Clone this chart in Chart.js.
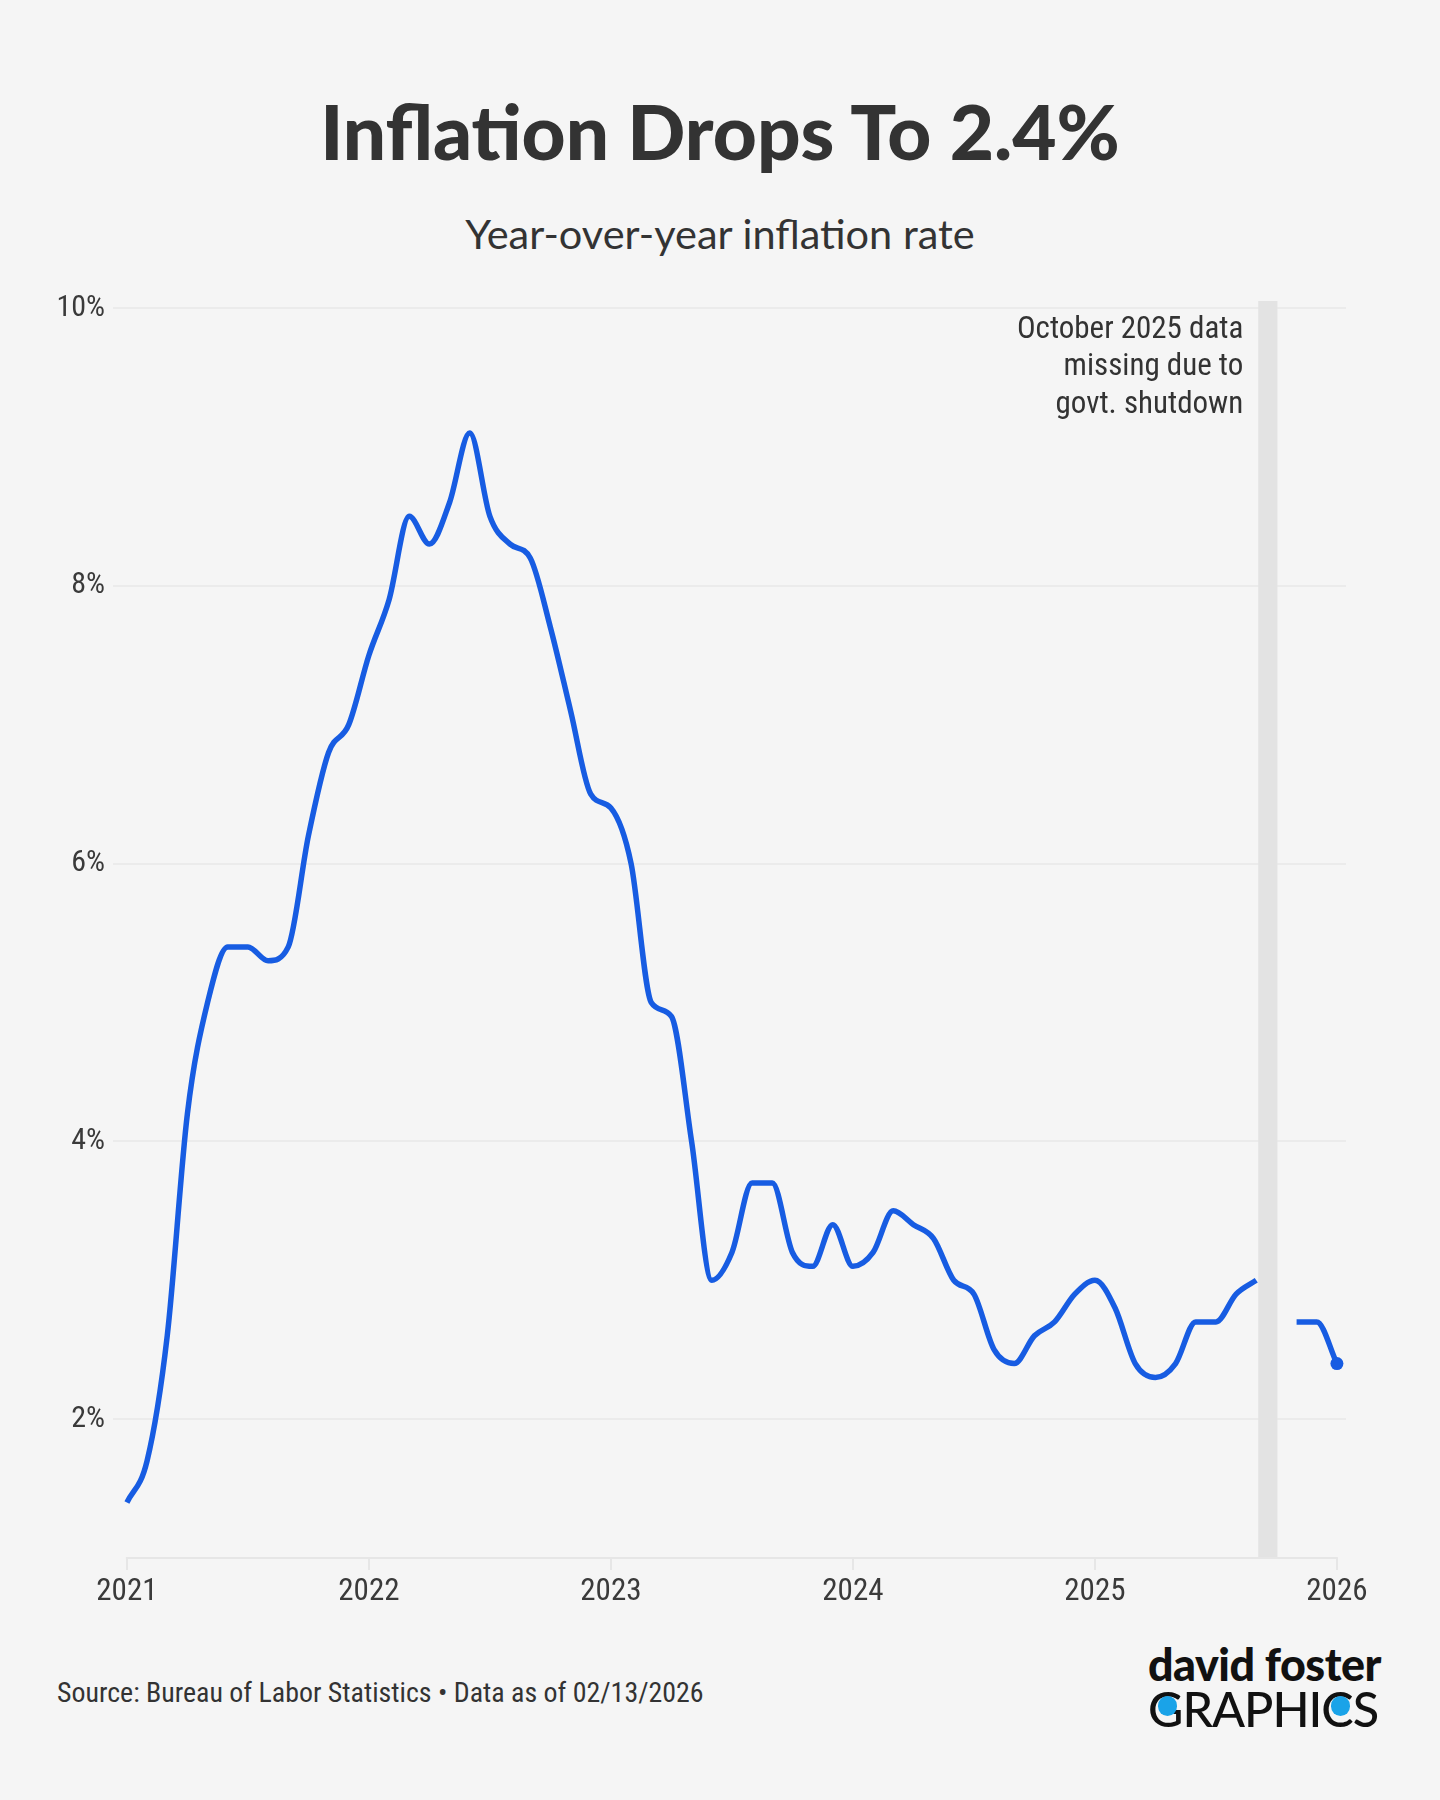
<!DOCTYPE html>
<html>
<head>
<meta charset="utf-8">
<script src="https://cdn.jsdelivr.net/npm/chart.js@4.4.1/dist/chart.umd.min.js"></script>
<style>
html, body { margin: 0; padding: 0; background: #f5f5f5; }
#page { position: relative; width: 1440px; height: 1800px; background: #f5f5f5; overflow: hidden; color: #333; font-family: Lato, sans-serif; }
.fit { position: absolute; left: 0; width: 1440px; text-align: center; white-space: nowrap; }
#title { top: 86px; font-weight: 900; font-size: 76px; line-height: 90px; color: #333; }
#subtitle { top: 210px; font-weight: 400; font-size: 38px; line-height: 46px; color: #333; }
#chart { position: absolute; left: 0; top: 280px; }
#source { position: absolute; left: 57px; top: 1676px; font-family: 'Roboto Condensed', 'Liberation Sans Narrow', 'DejaVu Sans Condensed', Roboto, sans-serif; font-size: 27px; line-height: 34px; color: #333; white-space: nowrap; }
#logo { position: absolute; left: 1148px; top: 1642px; color: #111; }
#logo .l1 { font-family: Lato, sans-serif; font-weight: 900; font-size: 46px; line-height: 44px; white-space: nowrap; letter-spacing: -0.5px; }
#logo .l2 { font-family: Lato, sans-serif; font-weight: 500; font-size: 46px; line-height: 44px; white-space: nowrap; letter-spacing: -1px; }
.dot { position: relative; }
.dot::after { content: ''; position: absolute; left: 0.2em; top: 0.36em; width: 0.4em; height: 0.4em; border-radius: 50%; background: #1aa3e8; }
</style>
</head>
<body>
<div id="page">
  <div id="title" class="fit"><span>Inflation Drops To 2.4%</span></div>
  <div id="subtitle" class="fit"><span>Year-over-year inflation rate</span></div>
  <canvas id="chart" width="1440" height="1340"></canvas>
  <div id="source"><span>Source: Bureau of Labor Statistics • Data as of 02/13/2026</span></div>
  <div id="logo">
    <div class="l1" id="logo1"><span>david foster</span></div>
    <div class="l2" id="logo2"><span><span class="dot">G</span>RAPHI<span class="dot">C</span>S</span></div>
  </div>
</div>
<script>
// CPI year-over-year, % (Jan..Dec)
const rates2021 = [1.4, 1.7, 2.6, 4.2, 5.0, 5.4, 5.4, 5.3, 5.4, 6.2, 6.8, 7.0];
const rates2022 = [7.5, 7.9, 8.5, 8.3, 8.6, 9.1, 8.5, 8.3, 8.2, 7.7, 7.1, 6.5];
const rates2023 = [6.4, 6.0, 5.0, 4.9, 4.0, 3.0, 3.2, 3.7, 3.7, 3.2, 3.1, 3.4];
const rates2024 = [3.1, 3.2, 3.5, 3.4, 3.3, 3.0, 2.9, 2.5, 2.4, 2.6, 2.7, 2.9];
const rates2025 = [3.0, 2.8, 2.4, 2.3, 2.4, 2.7, 2.7, 2.9, 3.0, null, 2.7, 2.7];
const rates2026 = [2.4];

const startYear = 2021;
const yearTicks = [2021, 2022, 2023, 2024, 2025, 2026];
const percentTicks = [2, 4, 6, 8, 10];
const shutdownBand = [56.1, 57.05]; // in months since Jan 2021
const noteLines = ['October 2025 data', 'missing due to', 'govt. shutdown'];

const condensed = "'Roboto Condensed', 'Liberation Sans Narrow', 'DejaVu Sans Condensed', Roboto, sans-serif";

// fit the headline texts to their widths in the original
function fitWidth(id, target) {
  const el = document.getElementById(id);
  const span = el.querySelector('span');
  const size = parseFloat(getComputedStyle(el).fontSize);
  el.style.fontSize = (size * target / span.offsetWidth) + 'px';
}
fitWidth('title', 800);
fitWidth('subtitle', 509);
fitWidth('source', 647);
fitWidth('logo1', 233);
fitWidth('logo2', 230);

const allRates = [].concat(rates2021, rates2022, rates2023, rates2024, rates2025, rates2026);
const points = allRates.map((v, i) => ({ x: i, y: v }));
const radii = allRates.map((v, i) => (i === allRates.length - 1 ? 6.5 : 0));

const extras = {
  id: 'extras',
  beforeDatasetsDraw(chart) {
    const { ctx, chartArea, scales } = chart;
    const x = scales.x;
    // shutdown band
    const b0 = x.getPixelForValue(shutdownBand[0]);
    const b1 = x.getPixelForValue(shutdownBand[1]);
    ctx.save();
    ctx.fillStyle = '#e3e3e3';
    ctx.fillRect(b0, chartArea.top - 7, b1 - b0, chartArea.bottom - chartArea.top + 7);
    // baseline from first to last year
    ctx.strokeStyle = '#e6e6e6';
    ctx.lineWidth = 2;
    ctx.beginPath();
    ctx.moveTo(x.getPixelForValue(0) - 1, chartArea.bottom);
    ctx.lineTo(x.getPixelForValue((yearTicks.length - 1) * 12) + 1, chartArea.bottom);
    ctx.stroke();
    // note
    ctx.fillStyle = '#333';
    ctx.font = '31px ' + condensed;
    ctx.textAlign = 'right';
    ctx.textBaseline = 'alphabetic';
    noteLines.forEach((t, i) => {
      ctx.fillText(t, b0 - 15, chartArea.top + 30 + i * 37.3);
    });
    ctx.restore();
  }
};

new Chart(document.getElementById('chart').getContext('2d'), {
  type: 'line',
  data: {
    datasets: [{
      data: points,
      borderColor: '#175ce2',
      backgroundColor: '#175ce2',
      borderWidth: 5.5,
      cubicInterpolationMode: 'monotone',
      spanGaps: false,
      pointRadius: radii,
      pointHoverRadius: radii,
      pointBorderWidth: 0,
      borderCapStyle: 'butt'
    }]
  },
  options: {
    responsive: false,
    animation: false,
    devicePixelRatio: 1,
    layout: { padding: { top: 28, right: 94, left: 0, bottom: 0 } },
    plugins: { legend: { display: false }, tooltip: { enabled: false } },
    scales: {
      x: {
        type: 'linear',
        min: -0.69,
        max: 60.45,
        afterBuildTicks(scale) {
          scale.ticks = yearTicks.map((y, i) => ({ value: i * 12 }));
        },
        afterFit(scale) { scale.height = 62; },
        grid: { drawOnChartArea: false, drawTicks: true, tickLength: 12, color: '#e6e6e6', lineWidth: 2 },
        border: { display: false },
        ticks: {
          color: '#3a3a3a',
          padding: 4,
          maxRotation: 0,
          font: { family: condensed, size: 31 },
          callback: v => String(startYear + v / 12)
        }
      },
      y: {
        min: 1,
        max: 10,
        afterBuildTicks(scale) {
          scale.ticks = percentTicks.map(v => ({ value: v }));
        },
        afterFit(scale) { scale.width = 113; },
        grid: { drawTicks: false, color: '#ebebeb', lineWidth: 2 },
        border: { display: false },
        ticks: {
          color: '#3a3a3a',
          padding: 8,
          font: { family: condensed, size: 30 },
          callback: v => v + '%'
        }
      }
    }
  },
  plugins: [extras]
});
</script>
</body>
</html>
